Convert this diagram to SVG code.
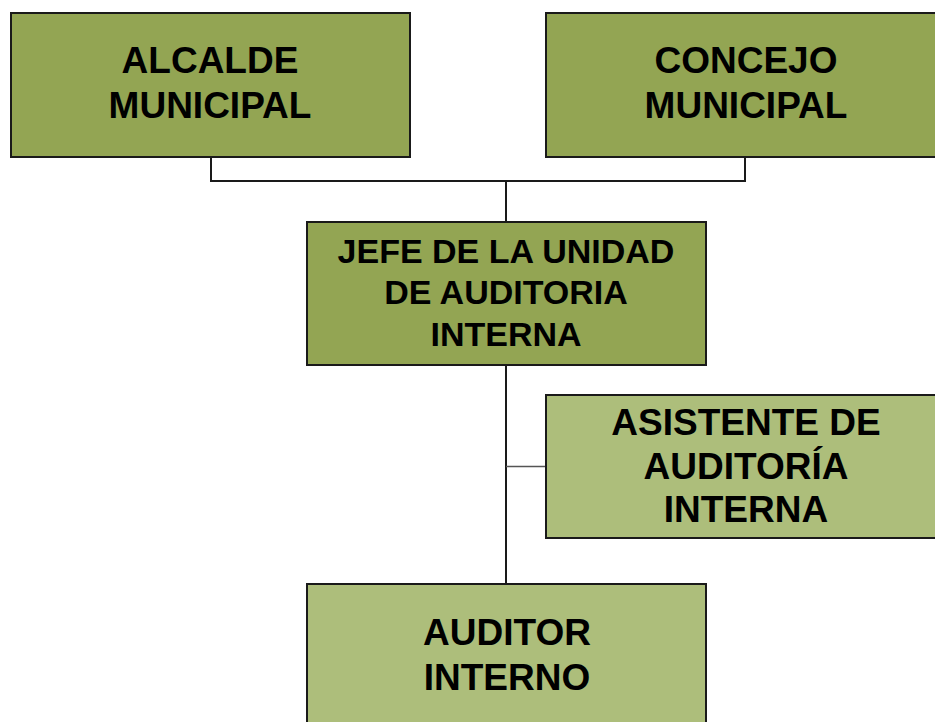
<svg xmlns="http://www.w3.org/2000/svg" width="935" height="722" viewBox="0 0 935 722">
<style>
.dark{fill:#93A553;stroke:#1a1a1a;stroke-width:2}
.light{fill:#ADBE7B;stroke:#1a1a1a;stroke-width:2}
.t{font-family:"Liberation Sans",Arial,sans-serif;font-weight:bold;fill:#000;text-anchor:middle}
.c{fill:none;stroke:#1a1a1a;stroke-width:2}
.c2{fill:none;stroke:#555;stroke-width:1.3}
</style>
<rect width="935" height="722" fill="#fff"/>
<g id="connectors">
<polyline class="c" points="211,157 211,181 745,181 745,157"/>
<line class="c" x1="506" y1="181" x2="506" y2="222"/>
<line class="c" x1="506" y1="365" x2="506" y2="584"/>
<line class="c2" x1="506" y1="466.5" x2="546" y2="466.5"/>
</g>
<g id="alcalde">
<rect class="dark" x="11" y="13" width="399" height="144"/>
<text class="t" font-size="37"><tspan x="210" y="73">ALCALDE</tspan><tspan x="210" y="118">MUNICIPAL</tspan></text>
</g>
<g id="concejo">
<rect class="dark" x="546" y="13" width="400" height="144"/>
<text class="t" font-size="37"><tspan x="746" y="73">CONCEJO</tspan><tspan x="746" y="118">MUNICIPAL</tspan></text>
</g>
<g id="jefe">
<rect class="dark" x="307" y="222" width="399" height="143"/>
<text class="t" font-size="34"><tspan x="506" y="263">JEFE DE LA UNIDAD</tspan><tspan x="506" y="304">DE AUDITORIA</tspan><tspan x="506" y="346">INTERNA</tspan></text>
</g>
<g id="asistente">
<rect class="light" x="546" y="395" width="400" height="143"/>
<text class="t" font-size="37"><tspan x="746" y="435">ASISTENTE DE</tspan><tspan x="746" y="479">AUDITORÍA</tspan><tspan x="746" y="522">INTERNA</tspan></text>
</g>
<g id="auditor">
<rect class="light" x="307" y="584" width="399" height="150"/>
<text class="t" font-size="37"><tspan x="507" y="645">AUDITOR</tspan><tspan x="507" y="690">INTERNO</tspan></text>
</g>
</svg>
